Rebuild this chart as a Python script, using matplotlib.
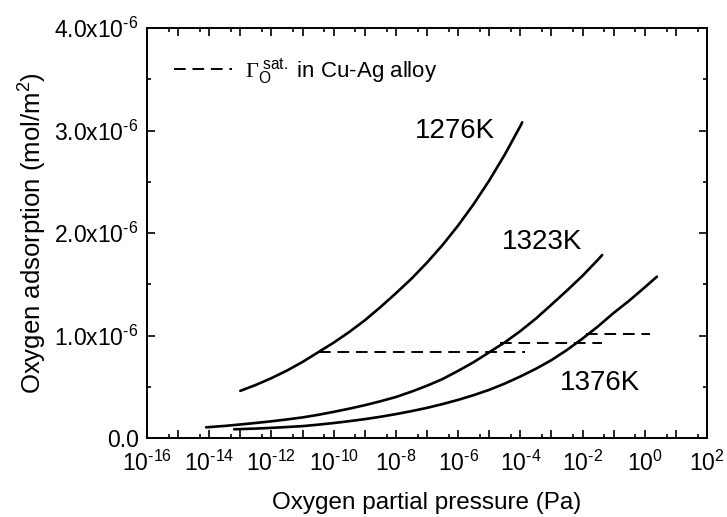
import numpy as np
import matplotlib
matplotlib.use("Agg")
import matplotlib.pyplot as plt
from matplotlib.ticker import FixedLocator, FixedFormatter, NullFormatter

plt.rcParams['font.family'] = ['Liberation Sans', 'DejaVu Sans']
plt.rcParams['mathtext.fontset'] = 'custom'
plt.rcParams['mathtext.rm'] = 'Liberation Sans'
plt.rcParams['mathtext.it'] = 'Liberation Sans:italic'
plt.rcParams['mathtext.bf'] = 'Liberation Sans:bold'
plt.rcParams['mathtext.cal'] = 'Liberation Serif'

# ---- data (log10 of pressure in Pa, adsorption in 1e-6 mol/m^2) ----
logp_1276 = [-13.0, -12.5, -12.0, -11.5, -11.0, -10.5, -10.0, -9.5, -9.0, -8.5, -8.0,
             -7.5, -7.0, -6.5, -6.0, -5.5, -5.0, -4.5, -4.0, -3.94]
ads_1276 = [0.460, 0.518, 0.584, 0.658, 0.742, 0.836, 0.930, 1.034, 1.148, 1.276, 1.412,
            1.554, 1.711, 1.883, 2.073, 2.282, 2.512, 2.765, 3.043, 3.08]

logp_1323 = [-14.1, -13.5, -13.0, -12.5, -12.0, -11.5, -11.0, -10.5, -10.0, -9.5, -9.0,
             -8.5, -8.0, -7.5, -7.0, -6.5, -6.0, -5.5, -5.0, -4.5, -4.0, -3.5, -3.0,
             -2.5, -2.0, -1.5, -1.37]
ads_1323 = [0.104, 0.118, 0.132, 0.147, 0.163, 0.181, 0.201, 0.226, 0.255, 0.286, 0.320,
            0.358, 0.400, 0.452, 0.510, 0.575, 0.655, 0.740, 0.836, 0.933, 1.043, 1.165, 1.301,
            1.439, 1.583, 1.741, 1.785]

logp_1376 = [-13.2, -12.5, -12.0, -11.5, -11.0, -10.5, -10.0, -9.5, -9.0, -8.5, -8.0,
             -7.5, -7.0, -6.5, -6.0, -5.5, -5.0, -4.5, -4.0, -3.5, -3.0, -2.5, -2.0,
             -1.5, -1.0, -0.5, 0.0, 0.39]
ads_1376 = [0.085, 0.092, 0.099, 0.107, 0.116, 0.130, 0.146, 0.164, 0.184, 0.207, 0.233,
            0.262, 0.294, 0.331, 0.372, 0.418, 0.470, 0.531, 0.600, 0.675, 0.760, 0.859, 0.970,
            1.090, 1.220, 1.340, 1.470, 1.574]

# saturation lines: (log p start, log p end, value)
sat_logp_start = [-10.47, -4.65, -1.9]
sat_logp_end = [-3.85, -1.37, 0.17]
sat_value = [0.842, 0.93, 1.018]

curve_labels = ['1276K', '1323K', '1376K']
label_logp = [-6.1, -3.31, -1.43]
label_ads = [3.0, 1.915, 0.537]

ytick_vals = [0.0, 1.0, 2.0, 3.0, 4.0]
ytick_labels = ['0.0', '1.0x10$^{\u20106}$', '2.0x10$^{\u20106}$', '3.0x10$^{\u20106}$', '4.0x10$^{\u20106}$']
xtick_exps = list(range(-16, 3))

# ---- figure ----
fig = plt.figure(figsize=(7.27, 5.17), dpi=100)
ax = fig.add_axes([147/727, 1 - 438/517, 560/727, 410/517])

scale = 1e-6
for lp, ad in [(logp_1276, ads_1276), (logp_1323, ads_1323), (logp_1376, ads_1376)]:
    ax.plot(10.0 ** np.array(lp), np.array(ad) * scale, color='black', lw=1.9,
            solid_capstyle='round', solid_joinstyle='round')

for i, (s, e, v) in enumerate(zip(sat_logp_start, sat_logp_end, sat_value)):
    ax.plot([10.0 ** s, 10.0 ** e], [v * scale, v * scale], color='black', lw=1.4,
            dashes=(6, 3.5),
            label=(r'$\mathcal{Γ}_{\mathrm{O}}^{\ \mathrm{sat.}}$ in Cu-Ag alloy' if i == 0 else None))

for t, lp, ad in zip(curve_labels, label_logp, label_ads):
    ax.text(10.0 ** lp, ad * scale, t, fontsize=20, ha='center', va='center')

ax.set_xscale('log')
ax.set_xlim(1e-16, 1e2)
ax.set_ylim(0, 4e-6)


def xlab(k):
    if k % 2:
        return ''
    if k < 0:
        return '10$^{\u2010%d}$' % (-k)
    return '10$^{%d}$' % k


ax.xaxis.set_major_locator(FixedLocator([10.0 ** k for k in xtick_exps]))
ax.xaxis.set_major_formatter(FixedFormatter([xlab(k) for k in xtick_exps]))
ax.xaxis.set_minor_locator(FixedLocator([5 * 10.0 ** k for k in range(-17, 2)]))
ax.xaxis.set_minor_formatter(NullFormatter())

ax.yaxis.set_major_locator(FixedLocator([v * scale for v in ytick_vals]))
ax.yaxis.set_major_formatter(FixedFormatter(ytick_labels))
ax.yaxis.set_minor_locator(FixedLocator([v * scale for v in [0.5, 1.5, 2.5, 3.5]]))

ax.tick_params(which='both', direction='in', top=True, right=True, width=1.2)
ax.tick_params(which='major', length=6, labelsize=16.5)
ax.tick_params(axis='x', which='major', pad=9)
ax.tick_params(axis='y', which='major', pad=6)
ax.tick_params(which='minor', length=3)
for sp in ax.spines.values():
    sp.set_linewidth(1.4)

ax.set_xlabel('Oxygen partial pressure (Pa)', fontsize=17.5, labelpad=12)
ax.set_ylabel('Oxygen adsorption (mol/m$^{2}$)', fontsize=18.5, labelpad=4)

leg = ax.legend(loc='upper left', frameon=False, fontsize=16, handlelength=2.6,
                handletextpad=0.6, borderaxespad=0.3, bbox_to_anchor=(0.02, 0.97))

fig.savefig('out.png', dpi=100)
